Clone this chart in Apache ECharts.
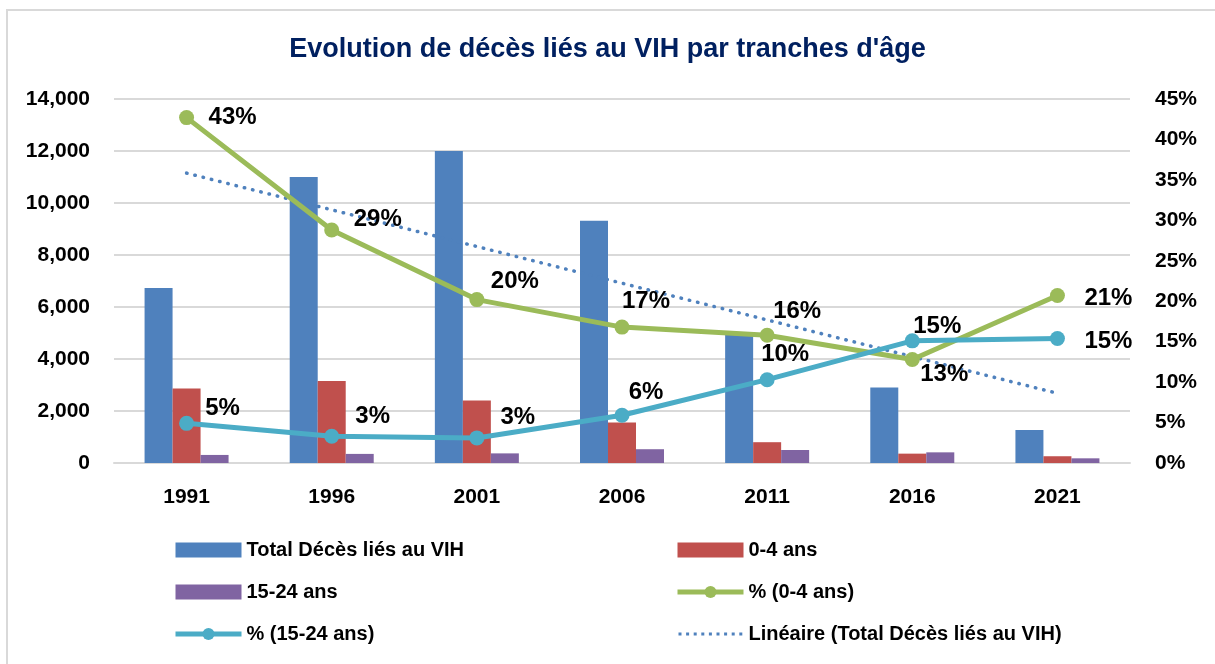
<!DOCTYPE html>
<html>
<head>
<meta charset="utf-8">
<script src="https://cdn.jsdelivr.net/npm/echarts@6/dist/echarts.min.js"></script>
<style>
  html, body { margin: 0; padding: 0; background: #fff; }
  #frame { position: absolute; left: 6px; top: 9px; width: 1215px; height: 664px;
           border-left: 2px solid #d9d9d9; border-top: 2px solid #d9d9d9; }
  #chart { position: absolute; left: 0; top: 0; width: 1215px; height: 664px; }
</style>
</head>
<body>
<div id="frame"></div>
<div id="chart"></div>
<script>
var years = ['1991', '1996', '2001', '2006', '2011', '2016', '2021'];
var totalDeces = [6730, 11000, 12000, 9320, 4920, 2900, 1270];
var deces0a4 = [2870, 3150, 2400, 1560, 800, 360, 260];
var deces15a24 = [310, 350, 370, 530, 500, 410, 180];
var pct0a4 = [42.7, 28.8, 20.2, 16.8, 15.8, 12.8, 20.7];
var pct15a24 = [4.9, 3.3, 3.1, 5.9, 10.3, 15.1, 15.4];
var pctLabels0a4 = ['43%', '29%', '20%', '17%', '16%', '13%', '21%'];
var pctLabels15a24 = ['5%', '3%', '3%', '6%', '10%', '15%', '15%'];
// trend line end points
var tendance = [11150, null, null, null, null, null, 2680];

var font = "'Liberation Sans Narrow', 'Arial Narrow', 'Liberation Sans', sans-serif";

// label offsets [dx, dy] per point
var offs0a4 = [[46, 0], [46, -11], [38, -18], [24, -26], [30, -24], [32, 15], [51, 3]];
var offs15a24 = [[36, -15], [41, -20], [41, -21], [24, -23], [18, -25], [25, -14], [51, 3]];

function pctData(values, labels, offs) {
  return values.map(function (v, i) {
    return {
      value: v,
      label: { formatter: labels[i], offset: offs[i] }
    };
  });
}

// dotted legend icon for the trend line (66 x 15 box)
var dotIcon = 'path://M0,0h0.05v0.05h-0.05z M66,15h-0.05v-0.05h0.05z';
for (var k = 0; k < 9; k++) {
  dotIcon += ' M' + (1 + k * 7.6) + ',6h3v3h-3z';
}

var legendText = { fontSize: 20, fontWeight: 'bold', color: '#000', fontFamily: font };

var chart = echarts.init(document.getElementById('chart'));
var option = {
  animation: false,
  textStyle: { fontFamily: font },
  title: {
    text: "Evolution de décès liés au VIH par tranches d'âge",
    left: 'center',
    top: 31,
    textStyle: { color: '#002060', fontSize: 27, fontWeight: 'bold', fontFamily: font }
  },
  legend: [{
    data: [
      { name: 'Total Décès liés au VIH', icon: 'rect' },
      { name: '15-24 ans', icon: 'rect' },
      '% (15-24 ans)'
    ],
    orient: 'vertical',
    left: 168,
    top: 535,
    itemWidth: 66,
    itemHeight: 15,
    itemGap: 22,
    lineStyle: { width: 5 },
    textStyle: legendText
  }, {
    data: [
      { name: '0-4 ans', icon: 'rect' },
      { name: '% (0-4 ans)', lineStyle: { width: 5 } },
      { name: 'Linéaire (Total Décès liés au VIH)', icon: dotIcon }
    ],
    orient: 'vertical',
    left: 670,
    top: 535,
    itemWidth: 66,
    itemHeight: 15,
    itemGap: 22,
    textStyle: legendText
  }],
  grid: { left: 114, right: 85, top: 99, bottom: 201, containLabel: false },
  xAxis: {
    type: 'category',
    data: years,
    axisTick: { show: false },
    axisLine: { lineStyle: { color: '#d9d9d9', width: 2 } },
    axisLabel: { color: '#000', fontSize: 21, fontWeight: 'bold', margin: 24, fontFamily: font }
  },
  yAxis: [{
    type: 'value',
    min: 0,
    max: 14000,
    interval: 2000,
    axisLine: { show: false },
    axisTick: { show: false },
    splitLine: { lineStyle: { color: '#d9d9d9', width: 2 } },
    axisLabel: {
      color: '#000', fontSize: 21, fontWeight: 'bold', margin: 24, fontFamily: font,
      formatter: function (v) { return v.toLocaleString('en-US'); }
    }
  }, {
    type: 'value',
    min: 0,
    max: 45,
    interval: 5,
    axisLine: { show: false },
    axisTick: { show: false },
    splitLine: { show: false },
    axisLabel: { color: '#000', fontSize: 21, fontWeight: 'bold', margin: 25, fontFamily: font, formatter: '{value}%' }
  }],
  series: [{
    name: 'Total Décès liés au VIH',
    type: 'bar',
    data: totalDeces,
    barWidth: 28,
    barGap: '0%',
    itemStyle: { color: '#4f81bd' }
  }, {
    name: '0-4 ans',
    type: 'bar',
    data: deces0a4,
    barWidth: 28,
    barGap: '0%',
    itemStyle: { color: '#c0504d' }
  }, {
    name: '15-24 ans',
    type: 'bar',
    data: deces15a24,
    barWidth: 28,
    barGap: '0%',
    itemStyle: { color: '#8064a2' }
  }, {
    name: 'Linéaire (Total Décès liés au VIH)',
    type: 'line',
    data: tendance,
    connectNulls: true,
    symbol: 'none',
    z: 3,
    itemStyle: { color: '#4f81bd' },
    lineStyle: { color: '#4f81bd', width: 3.5, type: [0.5, 8], cap: 'round' }
  }, {
    name: '% (0-4 ans)',
    type: 'line',
    yAxisIndex: 1,
    data: pctData(pct0a4, pctLabels0a4, offs0a4),
    symbol: 'circle',
    symbolSize: 15,
    z: 5,
    itemStyle: { color: '#9bbb59' },
    lineStyle: { color: '#9bbb59', width: 5 },
    label: {
      show: true, position: 'inside', color: '#000', fontSize: 24, fontWeight: 'bold', fontFamily: font
    }
  }, {
    name: '% (15-24 ans)',
    type: 'line',
    yAxisIndex: 1,
    data: pctData(pct15a24, pctLabels15a24, offs15a24),
    symbol: 'circle',
    symbolSize: 15,
    z: 6,
    itemStyle: { color: '#4bacc6' },
    lineStyle: { color: '#4bacc6', width: 5 },
    label: {
      show: true, position: 'inside', color: '#000', fontSize: 24, fontWeight: 'bold', fontFamily: font
    }
  }]
};
chart.setOption(option);
</script>
</body>
</html>
